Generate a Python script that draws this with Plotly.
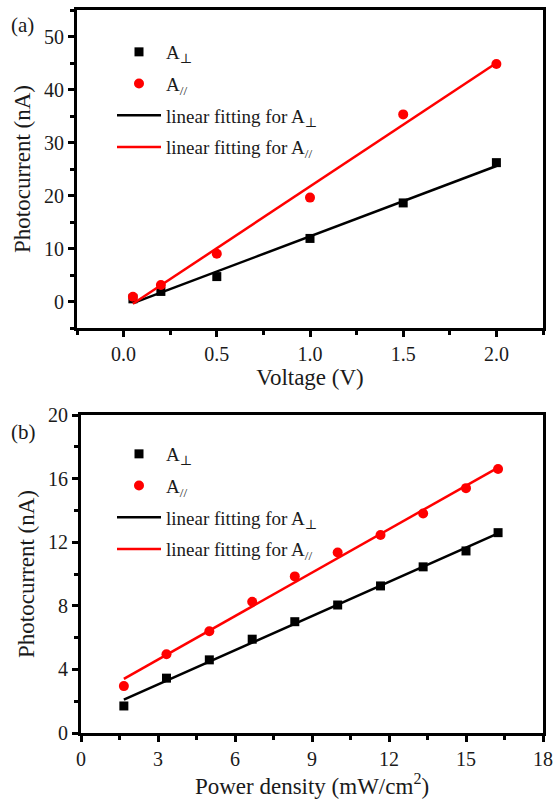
import numpy as np
import plotly.graph_objects as go

# ---- data panel (a) ----
voltage = [0.05, 0.2, 0.5, 1.0, 1.5, 2.0]
a_perp_v = [0.5, 1.9, 4.7, 11.9, 18.6, 26.2]
a_par_v = [0.9, 3.1, 9.0, 19.6, 35.3, 44.8]

# ---- data panel (b) ----
power = [1.67, 3.33, 5.0, 6.67, 8.33, 10.0, 11.67, 13.33, 15.0, 16.25]
a_perp_p = [1.7, 3.45, 4.6, 5.9, 7.0, 8.05, 9.25, 10.45, 11.45, 12.6]
a_par_p = [2.95, 4.95, 6.4, 8.25, 9.85, 11.35, 12.45, 13.8, 15.4, 16.6]

W, H = 554, 807
FONT = "Liberation Serif, Times New Roman, DejaVu Serif, serif"
TXT = "#1a1a1a"

def fit_line(x, y):
    k, b = np.polyfit(x, y, 1)
    xs = np.array([min(x), max(x)])
    return xs, k * xs + b

fig = go.Figure()

def add_panel(x, yperp, ypar, xa, ya, leg):
    fig.add_trace(go.Scatter(x=x, y=yperp, mode="markers", name="A<sub>⊥</sub>",
                             marker=dict(symbol="square", size=9, color="black"),
                             xaxis=xa, yaxis=ya, legend=leg, legendgroup=leg + "1"))
    fig.add_trace(go.Scatter(x=x, y=ypar, mode="markers", name="A<sub>//</sub>",
                             marker=dict(symbol="circle", size=10, color="#ff0000"),
                             xaxis=xa, yaxis=ya, legend=leg, legendgroup=leg + "2"))
    fx, fy = fit_line(x, yperp)
    fig.add_trace(go.Scatter(x=fx, y=fy, mode="lines", name="linear fitting for A<sub>⊥</sub>",
                             line=dict(color="black", width=2.5),
                             xaxis=xa, yaxis=ya, legend=leg, legendgroup=leg + "3"))
    fx, fy = fit_line(x, ypar)
    fig.add_trace(go.Scatter(x=fx, y=fy, mode="lines", name="linear fitting for A<sub>//</sub>",
                             line=dict(color="#ff0000", width=2.5),
                             xaxis=xa, yaxis=ya, legend=leg, legendgroup=leg + "4"))

add_panel(voltage, a_perp_v, a_par_v, "x", "y", "legend")
add_panel(power, a_perp_p, a_par_p, "x2", "y2", "legend2")

def px_x(p):
    return p / W

def px_y(p):
    return 1 - p / H

axis_common = dict(
    showline=True, linewidth=3, linecolor="black", mirror=True,
    ticks="outside", ticklen=6, tickwidth=2.5, tickcolor="black",
    showgrid=False, zeroline=False,
    ticklabeloverflow="allow",
    automargin=False,
    tickfont=dict(family=FONT, size=20, color=TXT),
)
minor_common = dict(ticks="outside", ticklen=4, tickwidth=2.5, tickcolor="black")
title_font = dict(family=FONT, size=23, color=TXT)

fig.update_layout(
    width=W, height=H,
    margin=dict(l=0, r=0, t=0, b=0),
    paper_bgcolor="white", plot_bgcolor="white",
    font=dict(family=FONT, color=TXT),
    xaxis=dict(domain=[px_x(77), px_x(543)], range=[-0.25, 2.25], anchor="y",
               tickvals=[0, 0.5, 1.0, 1.5, 2.0], ticktext=["0.0", "0.5", "1.0", "1.5", "2.0"],
               minor=dict(dtick=0.25, tick0=-0.25, **minor_common),
               title=dict(text="Voltage (V)", font=title_font, standoff=0),
               **axis_common),
    yaxis=dict(domain=[px_y(328), px_y(10)], range=[-5, 55], anchor="x",
               tickvals=[0, 10, 20, 30, 40, 50],
               minor=dict(dtick=5, tick0=-5, **minor_common),
               title=dict(text="Photocurrent (nA)", font=title_font, standoff=7),
               **axis_common),
    xaxis2=dict(domain=[px_x(81), px_x(543)], range=[0, 18], anchor="y2",
                tickvals=[0, 3, 6, 9, 12, 15, 18],
                minor=dict(dtick=1.5, tick0=0, **minor_common),
                title=dict(text="Power density (mW/cm<sup>2</sup>)", font=title_font, standoff=5),
                **axis_common),
    yaxis2=dict(domain=[px_y(733), px_y(415)], range=[0, 20], anchor="x2",
                tickvals=[0, 4, 8, 12, 16, 20],
                minor=dict(dtick=2, tick0=0, **minor_common),
                title=dict(text="Photocurrent (nA)", font=title_font, standoff=7),
                **axis_common),
    legend=dict(x=px_x(112), y=px_y(33), xanchor="left", yanchor="top",
                bgcolor="rgba(0,0,0,0)", font=dict(family=FONT, size=19, color=TXT),
                traceorder="grouped", tracegroupgap=4, itemwidth=44),
    legend2=dict(x=px_x(112), y=px_y(435), xanchor="left", yanchor="top",
                 bgcolor="rgba(0,0,0,0)", font=dict(family=FONT, size=19, color=TXT),
                 traceorder="grouped", tracegroupgap=4, itemwidth=44),
    annotations=[
        dict(text="(a)", x=px_x(9), y=px_y(25), xref="paper", yref="paper",
             xanchor="left", yanchor="middle", showarrow=False,
             font=dict(family=FONT, size=21, color=TXT)),
        dict(text="(b)", x=px_x(9), y=px_y(432), xref="paper", yref="paper",
             xanchor="left", yanchor="middle", showarrow=False,
             font=dict(family=FONT, size=21, color=TXT)),
    ],
)

fig.write_html("out.html", config={"displayModeBar": False},
               post_script="document.body.style.margin='0';document.body.style.overflow='hidden';")
